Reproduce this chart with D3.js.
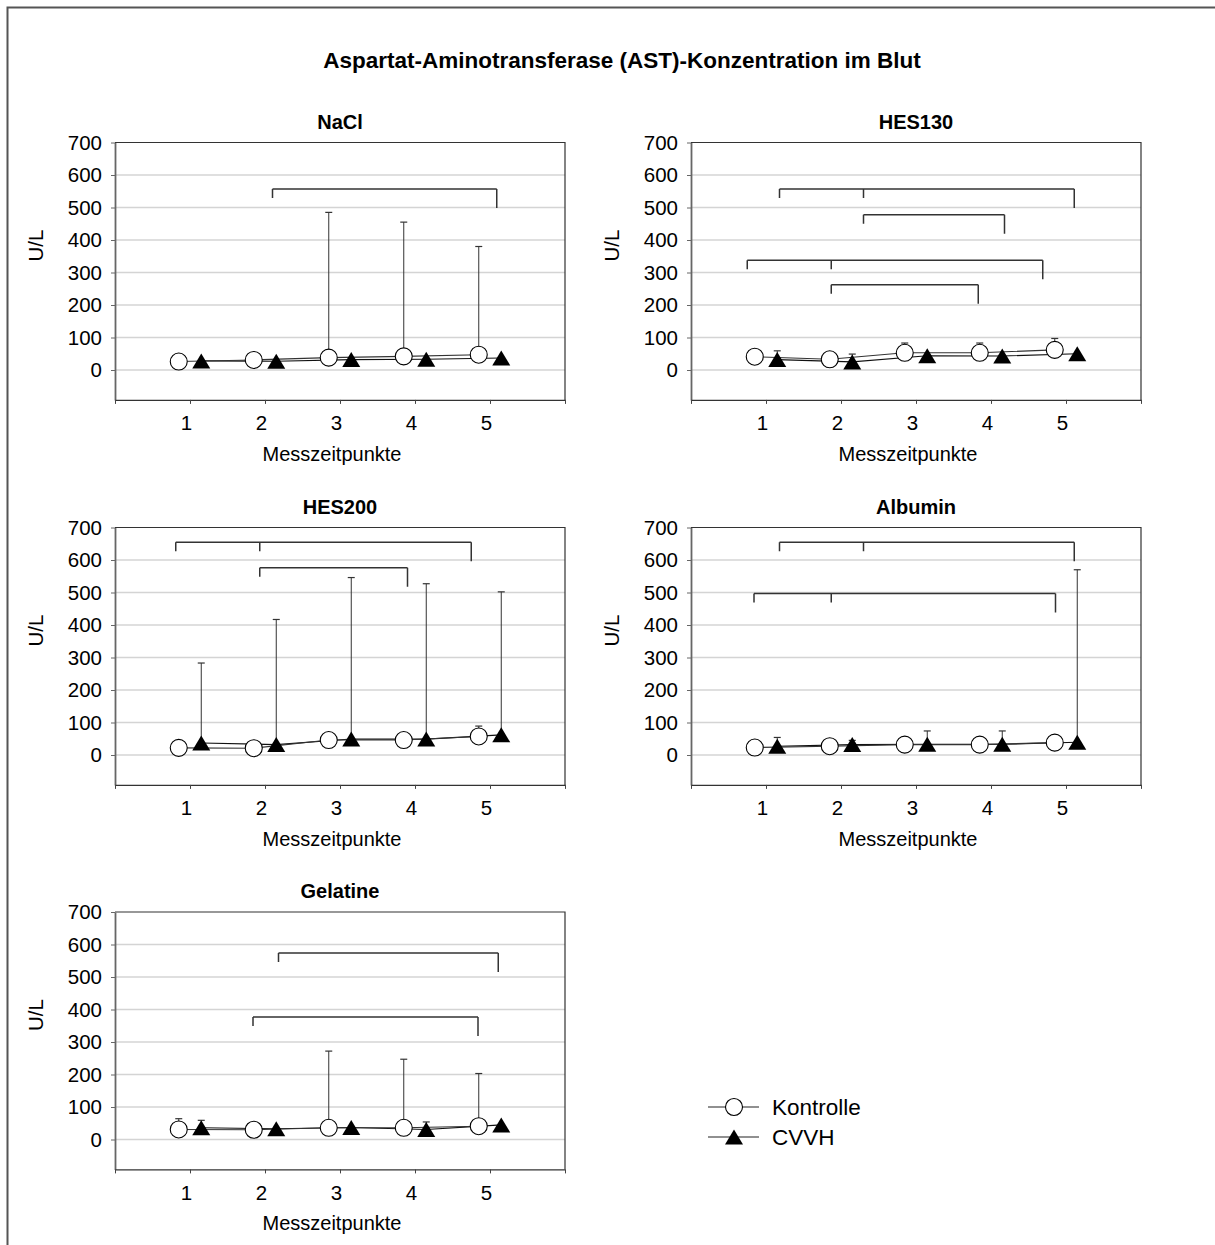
<!DOCTYPE html>
<html>
<head>
<meta charset="utf-8">
<script src="https://cdn.jsdelivr.net/npm/d3@7"></script>
<style>
  body { margin: 0; background: #fff; }
  svg { display: block; }
  text { font-family: "Liberation Sans", Arial, sans-serif; fill: #000; }
</style>
</head>
<body>
<svg id="chart" width="1215" height="1245"></svg>
<script>
// ---- values (U/L) per infusion group, Kontrolle vs. CVVH, time points 1..5 ----
const timepoints = [1, 2, 3, 4, 5];
const yTicks = [0, 100, 200, 300, 400, 500, 600, 700];
const seriesNames = ["Kontrolle", "CVVH"];
const groupNames = ["NaCl", "HES130", "HES200", "Albumin", "Gelatine"];

const naclKontrolle = [26, 31, 38, 42, 47];
const naclCvvh      = [28, 27, 32, 33, 37];
const naclKontrolleUpper = [null, null, 485, 455, 380];
const naclCvvhUpper      = [null, null, null, null, null];

const hes130Kontrolle = [41, 33, 53, 53, 62];
const hes130Cvvh      = [32, 25, 44, 43, 50];
const hes130KontrolleUpper = [null, null, 83, 83, 97];
const hes130CvvhUpper      = [59, 49, null, null, null];

const hes200Kontrolle = [22, 21, 46, 46, 57];
const hes200Cvvh      = [37, 32, 49, 49, 62];
const hes200KontrolleUpper = [null, null, null, null, 89];
const hes200CvvhUpper      = [283, 417, 546, 527, 502];

const albuminKontrolle = [23, 27, 32, 32, 38];
const albuminCvvh      = [27, 32, 33, 33, 39];
const albuminKontrolleUpper = [null, null, null, null, null];
const albuminCvvhUpper      = [54, 45, 74, 74, 570];

const gelatineKontrolle = [31, 30, 36, 36, 41];
const gelatineCvvh      = [36, 33, 37, 31, 45];
const gelatineKontrolleUpper = [64, null, 272, 247, 203];
const gelatineCvvhUpper      = [59, null, null, 54, null];

// significance brackets: level (U/L) and the time-axis positions of their legs
const naclBrackets = [
  { level: 557, legs: [2.10, 5.09] }
];
const hes130Brackets = [
  { level: 557, legs: [1.18, 2.30, 5.11] },
  { level: 478, legs: [2.30, 4.18] },
  { level: 338, legs: [0.75, 1.87, 4.69] },
  { level: 262, legs: [1.87, 3.83] }
];
const hes200Brackets = [
  { level: 655, legs: [0.81, 1.93, 4.75] },
  { level: 576, legs: [1.93, 3.90] }
];
const albuminBrackets = [
  { level: 655, legs: [1.18, 2.30, 5.11] },
  { level: 497, legs: [0.84, 1.87, 4.86] }
];
const gelatineBrackets = [
  { level: 574, legs: [2.18, 5.11] },
  { level: 377, legs: [1.84, 4.84] }
];

// ---- layout ----
const svg = d3.select("#chart");
const plotW = 450, plotH = 257.4;
const colX = [115, 691];
const rowY = [142.5, 527.5, 912];
const offset = 0.15;          // horizontal shift of the two series around each time point
const shortLeg = 9, longLeg = 19;

const panels = [
  { name: groupNames[0], k: naclKontrolle, c: naclCvvh, kUp: naclKontrolleUpper, cUp: naclCvvhUpper, br: naclBrackets, col: 0, row: 0 },
  { name: groupNames[1], k: hes130Kontrolle, c: hes130Cvvh, kUp: hes130KontrolleUpper, cUp: hes130CvvhUpper, br: hes130Brackets, col: 1, row: 0 },
  { name: groupNames[2], k: hes200Kontrolle, c: hes200Cvvh, kUp: hes200KontrolleUpper, cUp: hes200CvvhUpper, br: hes200Brackets, col: 0, row: 1 },
  { name: groupNames[3], k: albuminKontrolle, c: albuminCvvh, kUp: albuminKontrolleUpper, cUp: albuminCvvhUpper, br: albuminBrackets, col: 1, row: 1 },
  { name: groupNames[4], k: gelatineKontrolle, c: gelatineCvvh, kUp: gelatineKontrolleUpper, cUp: gelatineCvvhUpper, br: gelatineBrackets, col: 0, row: 2 }
];

// outer frame
svg.append("rect")
  .attr("x", 7.5).attr("y", 7.5).attr("width", 1240).attr("height", 1260)
  .attr("fill", "none").attr("stroke", "#555").attr("stroke-width", 2);

// main title
svg.append("text")
  .attr("x", 622).attr("y", 68)
  .attr("text-anchor", "middle")
  .style("font-size", "22.5px").style("font-weight", "bold")
  .text("Aspartat-Aminotransferase (AST)-Konzentration im Blut");

const triPath = "M0,-7.5L9,7.5L-9,7.5Z";

panels.forEach(p => {
  const x0 = colX[p.col], y0 = rowY[p.row];
  const x = d3.scaleLinear().domain([0, 6]).range([x0, x0 + plotW]);
  const y = d3.scaleLinear().domain([-92, 700]).range([y0 + plotH, y0]);
  const g = svg.append("g");

  // gridlines
  g.selectAll(".grid").data(yTicks.filter(v => v < 700)).join("line")
    .attr("x1", x0).attr("x2", x0 + plotW)
    .attr("y1", d => y(d)).attr("y2", d => y(d))
    .attr("stroke", "#d4d4d4").attr("stroke-width", 1.5);

  // plot frame (top / right)
  g.append("path")
    .attr("d", `M${x0},${y(700)}H${x0 + plotW}V${y(-92)}`)
    .attr("fill", "none").attr("stroke", "#333").attr("stroke-width", 1.2);

  // y axis
  const ya = g.append("g").attr("transform", `translate(${x0},0)`)
    .call(d3.axisLeft(y).tickValues(yTicks).tickSize(4).tickSizeOuter(0).tickPadding(9));
  ya.select(".domain").attr("stroke", "#666").attr("stroke-width", 1.8);
  ya.selectAll(".tick line").attr("stroke", "#666");
  ya.selectAll(".tick text").style("font-size", "20.5px").attr("fill", "#000");

  // x axis
  const xa = g.append("g").attr("transform", `translate(0,${y(-92)})`)
    .call(d3.axisBottom(x).tickValues([0, 1, 2, 3, 4, 5, 6]).tickSize(4).tickSizeOuter(0)
      .tickPadding(12).tickFormat(d => (d >= 1 && d <= 5) ? d : ""));
  xa.select(".domain").attr("stroke", "#333").attr("stroke-width", 1.2);
  xa.selectAll(".tick line").attr("stroke", "#444");
  xa.selectAll(".tick text").style("font-size", "20.5px").attr("fill", "#000").attr("dx", "-4");

  // axis titles
  g.append("text")
    .attr("transform", `translate(${x0 - 79},${y0 + 103}) rotate(-90)`)
    .attr("text-anchor", "middle").attr("dy", "0.35em")
    .style("font-size", "20.5px").text("U/L");
  g.append("text")
    .attr("x", x0 + plotW / 2 - 8).attr("y", y(-92) + 61)
    .attr("text-anchor", "middle")
    .style("font-size", "20px").text("Messzeitpunkte");

  // panel title
  g.append("text")
    .attr("x", x0 + plotW / 2).attr("y", y0 - 14)
    .attr("text-anchor", "middle")
    .style("font-size", "20px").style("font-weight", "bold")
    .text(p.name);

  // significance brackets
  p.br.forEach(b => {
    const yl = y(b.level);
    let d = "";
    b.legs.forEach((t, i) => {
      const leg = i === b.legs.length - 1 ? longLeg : shortLeg;
      d += `M${x(t)},${yl}V${yl + leg}`;
    });
    d += `M${x(b.legs[0])},${yl}H${x(b.legs[b.legs.length - 1])}`;
    g.append("path").attr("d", d)
      .attr("fill", "none").attr("stroke", "#333").attr("stroke-width", 1.5);
  });

  const kPts = timepoints.map((t, i) => ({ t: t - offset, v: p.k[i], up: p.kUp[i] }));
  const cPts = timepoints.map((t, i) => ({ t: t + offset, v: p.c[i], up: p.cUp[i] }));
  const line = d3.line().x(d => x(d.t)).y(d => y(d.v));

  // connecting lines
  g.append("path").attr("d", line(cPts))
    .attr("fill", "none").attr("stroke", "#111").attr("stroke-width", 1.1);
  g.append("path").attr("d", line(kPts))
    .attr("fill", "none").attr("stroke", "#333").attr("stroke-width", 1.1);

  // upper error bars
  [kPts, cPts].forEach(pts => {
    const eb = g.selectAll(null).data(pts.filter(d => d.up != null)).join("g");
    eb.append("line")
      .attr("x1", d => x(d.t)).attr("x2", d => x(d.t))
      .attr("y1", d => y(d.v)).attr("y2", d => y(d.up))
      .attr("stroke", "#333").attr("stroke-width", 1);
    eb.append("line")
      .attr("x1", d => x(d.t) - 3.5).attr("x2", d => x(d.t) + 3.5)
      .attr("y1", d => y(d.up)).attr("y2", d => y(d.up))
      .attr("stroke", "#333").attr("stroke-width", 1.2);
  });

  // markers
  g.selectAll(null).data(kPts).join("circle")
    .attr("cx", d => x(d.t)).attr("cy", d => y(d.v)).attr("r", 8.5)
    .attr("fill", "#fff").attr("stroke", "#000").attr("stroke-width", 1.1);
  g.selectAll(null).data(cPts).join("path")
    .attr("transform", d => `translate(${x(d.t)},${y(d.v)})`)
    .attr("d", triPath).attr("fill", "#000");
});

// legend
const legend = svg.append("g");
const legRows = [1107, 1137];
seriesNames.forEach((name, i) => {
  const ly = legRows[i];
  legend.append("line").attr("x1", 708).attr("x2", 759).attr("y1", ly).attr("y2", ly)
    .attr("stroke", "#222").attr("stroke-width", 1.1);
  if (i === 0) {
    legend.append("circle").attr("cx", 734).attr("cy", ly).attr("r", 8.5)
      .attr("fill", "#fff").attr("stroke", "#000").attr("stroke-width", 1.1);
  } else {
    legend.append("path").attr("transform", `translate(734,${ly})`).attr("d", triPath).attr("fill", "#000");
  }
  legend.append("text").attr("x", 772).attr("y", ly).attr("dy", "0.35em")
    .style("font-size", "22.5px").text(name);
});
</script>
</body>
</html>
